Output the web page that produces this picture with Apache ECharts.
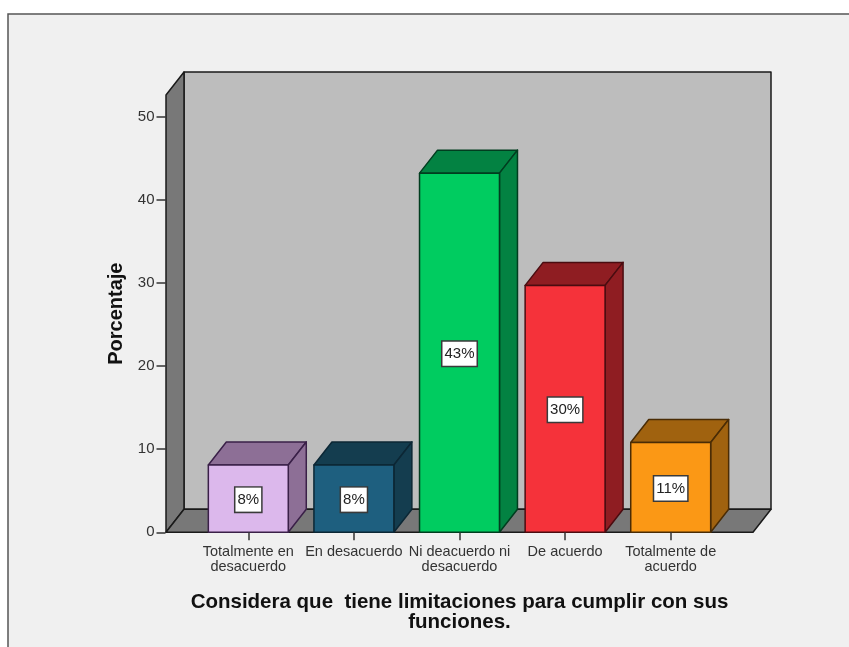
<!DOCTYPE html>
<html>
<head>
<meta charset="utf-8">
<style>html,body{margin:0;padding:0;background:#fff}#c{width:849px;height:647px}</style>
<script src="https://cdn.jsdelivr.net/npm/echarts@6/dist/echarts.min.js"></script>
</head>
<body>
<div id="c"></div>
<script>
const categories = ['Totalmente en\ndesacuerdo', 'En desacuerdo', 'Ni deacuerdo ni\ndesacuerdo', 'De acuerdo', 'Totalmente de\nacuerdo'];
const values = [8.1, 8.1, 43.2, 29.7, 10.8];
const valueLabels = ['8%', '8%', '43%', '30%', '11%'];
const frontColors = ['#dcb8ec', '#1e5f7f', '#00cc60', '#f5323a', '#fb9815'];
const sideColors = ['#8d6f96', '#143d4f', '#038242', '#8f1d22', '#a0620f'];
const edgeColors = ['#3a2048', '#0c2735', '#013d1f', '#4a0c10', '#4a2c05'];
const xTitle = 'Considera que  tiene limitaciones para cumplir con sus\nfunciones.';
const yTitle = 'Porcentaje';
const yMax = 52.6;
const DX = 18, DY = -23, SIDE_PAD = 29.5;

function poly(points, fill, stroke, lw) {
  return { type: 'polygon', shape: { points }, style: { fill, stroke, lineWidth: lw, lineJoin: 'round' } };
}
function renderWalls(params, api) {
  const cs = params.coordSys;
  const l = cs.x - SIDE_PAD, r = cs.x + cs.width + SIDE_PAD, t = cs.y, b = cs.y + cs.height;
  const ink = '#1a1a1a';
  return { type: 'group', children: [
    poly([[l+DX,t+DY],[r+DX,t+DY],[r+DX,b+DY],[l+DX,b+DY]], '#bdbdbd', ink, 1.5),
    poly([[l,t],[l+DX,t+DY],[l+DX,b+DY],[l,b]], '#787878', ink, 1.5),
    poly([[l,b],[l+DX,b+DY],[r+DX,b+DY],[r,b]], '#787878', ink, 1.5)
  ]};
}
function renderBar(params, api) {
  const i = params.dataIndex;
  const v = api.value(1);
  const base = api.coord([i, 0]);
  const top = api.coord([i, v]);
  const mid = api.coord([i, v / 2]);
  const w = api.size([1, 0])[0] * 0.757;
  const l = base[0] - w / 2, r = base[0] + w / 2, b = base[1], t = top[1];
  const e = edgeColors[i];
  return { type: 'group', children: [
    poly([[l,t],[r,t],[r+DX,t+DY],[l+DX,t+DY]], sideColors[i], e, 1.5),
    poly([[r,t],[r+DX,t+DY],[r+DX,b+DY],[r,b]], sideColors[i], e, 1.5),
    poly([[l,t],[r,t],[r,b],[l,b]], frontColors[i], e, 1.5),
    { type: 'text', style: {
      text: valueLabels[i], x: mid[0], y: mid[1] + 1, align: 'center', verticalAlign: 'middle',
      fill: '#222', font: '15px "Liberation Sans", Arial, sans-serif',
      backgroundColor: '#fff', borderColor: '#3a3a3a', borderWidth: 1.5, padding: [5, 2, 4, 2]
    }}
  ]};
}

const chart = echarts.init(document.getElementById('c'), null, { renderer: 'canvas' });
chart.setOption({
  animation: false,
  backgroundColor: '#fff',
  graphic: [{ type: 'rect', silent: true, z: -1, shape: { x: 8, y: 14, width: 900, height: 700 },
    style: { fill: '#f0f0f0', stroke: '#555', lineWidth: 1.5 } }],
  grid: { left: 195.5, width: 528, top: 95, height: 437.3 },
  xAxis: {
    type: 'category', data: categories, z: 5,
    name: xTitle, nameLocation: 'middle', nameGap: 60,
    nameTextStyle: { fontFamily: '"Liberation Sans"', fontWeight: 'bold', fontSize: 20.5, color: '#111', lineHeight: 20 },
    axisLine: { show: false },
    axisTick: { show: true, alignWithLabel: true, length: 8, lineStyle: { color: '#333', width: 1.5 } },
    axisLabel: { interval: 0, margin: 12, fontFamily: '"Liberation Sans"', fontSize: 14.5, lineHeight: 15, color: '#333' }
  },
  yAxis: {
    type: 'value', min: 0, max: yMax, interval: 10, offset: 30,
    name: yTitle, nameLocation: 'middle', nameGap: 39,
    nameTextStyle: { fontFamily: '"Liberation Sans"', fontWeight: 'bold', fontSize: 20, color: '#111' },
    splitLine: { show: false },
    axisLine: { show: false },
    axisTick: { show: true, length: 9, lineStyle: { color: '#333', width: 1.5 } },
    axisLabel: { margin: 11, padding: [3, 0, 0, 0], showMaxLabel: false, fontFamily: '"Liberation Sans"', fontSize: 15, color: '#333' }
  },
  series: [
    { type: 'custom', silent: true, z: 1, data: [[0, 0]], renderItem: renderWalls },
    { type: 'custom', silent: true, z: 2, data: values.map((v, i) => [i, v]), encode: { x: 0, y: 1 }, renderItem: renderBar }
  ]
});
</script>
</body>
</html>
